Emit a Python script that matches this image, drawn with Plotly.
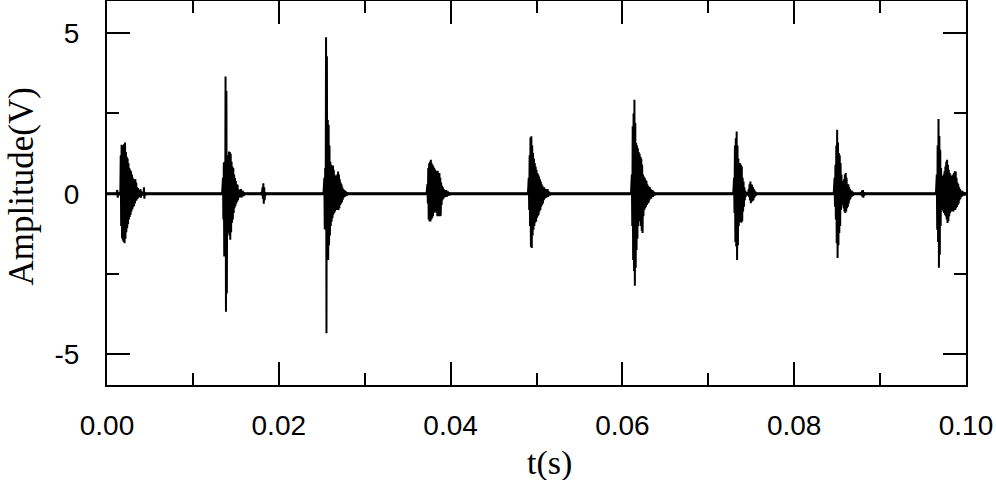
import plotly.graph_objects as go

# sampling step of the digitised envelopes (s)
dt = 0.0001

# burst start times (s)
burst_t0 = [0.0012, 0.0135, 0.0180, 0.0253, 0.0373, 0.0491, 0.0611, 0.0730, 0.0847, 0.0878, 0.0966]

# upper / lower envelope of each burst (V), one value per dt
burst_up = [
    [0.12, 0.03, 0.03, 0.05, 1.2, 1.53, 1.5, 1.4, 1.55, 1.6, 1.3, 1.15, 1.1, 0.95, 0.8, 0.75, 0.7, 0.6,
     0.5, 0.46, 0.42, 0.45, 0.35, 0.2, 0.18, 0.12, 0.08, 0.15, 0.08, 0.05, 0.05, 0.2, 0.05],
    [0.5, 0.97, 1.0, 3.65, 3.2, 1.1, 1.2, 1.32, 1.3, 1.25, 1.0, 0.85, 0.8, 0.6, 0.49, 0.4, 0.3, 0.28,
     0.15, 0.12, 0.1, 0.15, 0.08, 0.1, 0.05],
    [0.05, 0.2, 0.33, 0.2, 0.05],
    [0.5, 0.8, 4.87, 4.28, 2.3, 2.15, 1.5, 1.0, 0.9, 0.85, 0.88, 0.75, 0.6, 0.54, 0.55, 0.6, 0.69, 0.6,
     0.45, 0.35, 0.3, 0.2, 0.15, 0.12, 0.1, 0.08, 0.05],
    [0.3, 0.8, 0.95, 1.0, 1.06, 0.95, 0.9, 0.85, 0.8, 0.75, 0.72, 0.7, 0.72, 0.6, 0.65, 0.5, 0.35, 0.25,
     0.2, 0.15, 0.12, 0.1, 0.12, 0.06, 0.08, 0.05],
    [0.5, 1.2, 1.75, 1.79, 1.5, 1.27, 1.1, 0.96, 0.85, 0.75, 0.65, 0.6, 0.54, 0.45, 0.38, 0.3, 0.25, 0.2,
     0.2, 0.15, 0.15, 0.12, 0.15, 0.08, 0.06],
    [0.6, 2.1, 2.5, 2.93, 2.2, 1.58, 1.5, 1.42, 1.3, 1.25, 1.16, 1.1, 0.9, 0.6, 0.54, 0.5, 0.44, 0.4,
     0.3, 0.25, 0.22, 0.2, 0.15, 0.12, 0.12, 0.08, 0.06],
    [0.5, 1.5, 1.73, 1.94, 1.5, 1.1, 0.96, 0.95, 0.9, 0.85, 0.5, 0.38, 0.2, 0.1, 0.05, 0.05, 0.06, 0.15,
     0.3, 0.38, 0.3, 0.28, 0.2, 0.15, 0.1, 0.06],
    [0.5, 0.9, 1.5, 1.99, 1.6, 1.27, 1.2, 0.96, 0.6, 0.4, 0.3, 0.45, 0.6, 0.65, 0.5, 0.3, 0.3, 0.2,
     0.15, 0.1, 0.1, 0.06],
    [0.05, 0.1, 0.12, 0.05],
    [0.6, 1.5, 2.33, 1.8, 1.37, 0.8, 0.54, 0.55, 0.6, 0.7, 0.85, 1.0, 1.06, 0.9, 0.75, 0.65, 0.6, 0.55,
     0.54, 0.6, 0.65, 0.7, 0.69, 0.5, 0.35, 0.3, 0.2, 0.15, 0.1, 0.1, 0.08, 0.06, 0.05],
]
burst_lo = [
    [-0.12, -0.03, -0.03, -0.05, -1.0, -1.38, -1.45, -1.5, -1.54, -1.4, -1.2, -1.07, -0.95, -0.8, -0.72,
     -0.65, -0.55, -0.48, -0.42, -0.38, -0.3, -0.22, -0.2, -0.15, -0.12, -0.1, -0.08, -0.12, -0.06,
     -0.05, -0.05, -0.15, -0.05],
    [-0.8, -1.95, -1.9, -3.67, -3.1, -1.22, -1.2, -1.3, -1.43, -1.2, -0.9, -0.8, -0.6, -0.45, -0.38,
     -0.3, -0.25, -0.2, -0.12, -0.1, -0.08, -0.12, -0.06, -0.08, -0.05],
    [-0.05, -0.15, -0.31, -0.2, -0.05],
    [-1.1, -1.12, -4.34, -2.0, -2.06, -1.6, -1.3, -1.0, -0.86, -0.75, -0.65, -0.6, -0.55, -0.5, -0.5,
     -0.48, -0.5, -0.45, -0.35, -0.3, -0.26, -0.18, -0.12, -0.1, -0.08, -0.06, -0.05],
    [-0.3, -0.8, -0.86, -0.86, -0.8, -0.76, -0.7, -0.6, -0.55, -0.55, -0.6, -0.7, -0.7, -0.65, -0.7,
     -0.68, -0.35, -0.2, -0.15, -0.12, -0.1, -0.08, -0.1, -0.05, -0.06, -0.05],
    [-0.5, -1.0, -1.65, -1.69, -1.3, -1.12, -1.0, -0.9, -0.86, -0.75, -0.7, -0.65, -0.55, -0.5, -0.4,
     -0.35, -0.3, -0.2, -0.15, -0.12, -0.12, -0.1, -0.1, -0.06, -0.05],
    [-1.0, -2.06, -2.4, -2.86, -2.3, -1.75, -1.4, -1.0, -0.85, -0.8, -1.0, -1.15, -1.22, -0.7, -0.5,
     -0.45, -0.4, -0.35, -0.3, -0.28, -0.2, -0.15, -0.15, -0.1, -0.1, -0.06, -0.05],
    [-0.6, -1.5, -1.64, -2.06, -1.6, -1.0, -0.86, -0.88, -0.9, -0.85, -0.55, -0.4, -0.2, -0.1, -0.05,
     -0.05, -0.05, -0.1, -0.2, -0.29, -0.25, -0.22, -0.2, -0.12, -0.08, -0.05],
    [-0.4, -0.8, -1.54, -2.0, -1.6, -1.22, -1.0, -0.5, -0.3, -0.35, -0.45, -0.55, -0.6, -0.55, -0.45,
     -0.4, -0.3, -0.2, -0.15, -0.1, -0.08, -0.05],
    [-0.05, -0.1, -0.12, -0.05],
    [-1.12, -1.5, -2.3, -1.9, -1.0, -0.5, -0.5, -0.55, -0.6, -0.65, -0.7, -0.8, -0.91, -0.85, -0.7,
     -0.6, -0.55, -0.55, -0.55, -0.55, -0.5, -0.5, -0.45, -0.4, -0.35, -0.3, -0.2, -0.15, -0.1, -0.08,
     -0.06, -0.05, -0.05],
]

y_tickvals = [-5, 0, 5]
y_ticktext = ["-5", "0", "5"]

t_start, t_end = 0.0, 0.1

# zig-zag between the envelopes so each burst renders like the dense trace
xs, ys = [t_start], [0.0]
for t0, up, lo in zip(burst_t0, burst_up, burst_lo):
    xs.append(t0 - dt)
    ys.append(0.0)
    for i in range(len(up)):
        xs += [t0 + i * dt, t0 + (i + 0.5) * dt]
        ys += [up[i], lo[i]]
    xs.append(t0 + len(up) * dt)
    ys.append(0.0)
xs.append(t_end)
ys.append(0.0)

fig = go.Figure()
fig.add_trace(go.Scatter(x=[t_start, t_end], y=[0.0, 0.0], mode="lines",
                         line=dict(color="black", width=3), hoverinfo="skip"))
fig.add_trace(go.Scatter(x=xs, y=ys, mode="lines", line=dict(color="black", width=2)))

axis_common = dict(
    showline=True, linecolor="black", linewidth=2, mirror="allticks",
    ticks="inside", ticklen=23, tickwidth=2, tickcolor="black",
    showgrid=False, zeroline=False, automargin=False,
    tickfont=dict(family="Liberation Sans, Arial, sans-serif", size=28, color="black"),
)

fig.update_xaxes(
    range=[0, 0.1], dtick=0.02, tick0=0, tickformat=".2f",
    minor=dict(dtick=0.01, ticks="inside", ticklen=12, tickwidth=2, tickcolor="black"),
    ticklabelstandoff=14,
    **axis_common,
)
fig.update_yaxes(
    range=[-5.95, 6.0], tickmode="array", tickvals=y_tickvals, ticktext=y_ticktext,
    minor=dict(tickmode="linear", tick0=0, dtick=2.5, ticks="inside", ticklen=12,
               tickwidth=2, tickcolor="black"),
    ticklabelstandoff=20,
    **axis_common,
)

title_font = dict(family="Liberation Serif, Times New Roman, serif", size=34, color="black")
fig.add_annotation(text="t(s)", xref="paper", yref="paper", x=0.5157, y=-0.203,
                   xanchor="center", yanchor="middle", showarrow=False, font=title_font)
fig.add_annotation(text="Amplitude(V)", xref="paper", yref="paper", x=-0.099, y=0.517,
                   xanchor="center", yanchor="middle", textangle=-90, showarrow=False,
                   font=dict(title_font, size=35))

fig.update_layout(
    width=996, height=480,
    margin=dict(l=107, r=30, t=1, b=95),
    paper_bgcolor="white", plot_bgcolor="white",
    showlegend=False,
)

# the page's default body margin would shift the figure by 8px
fig.write_html("out.html", config={"displayModeBar": False},
               post_script="document.body.style.margin='0';")
